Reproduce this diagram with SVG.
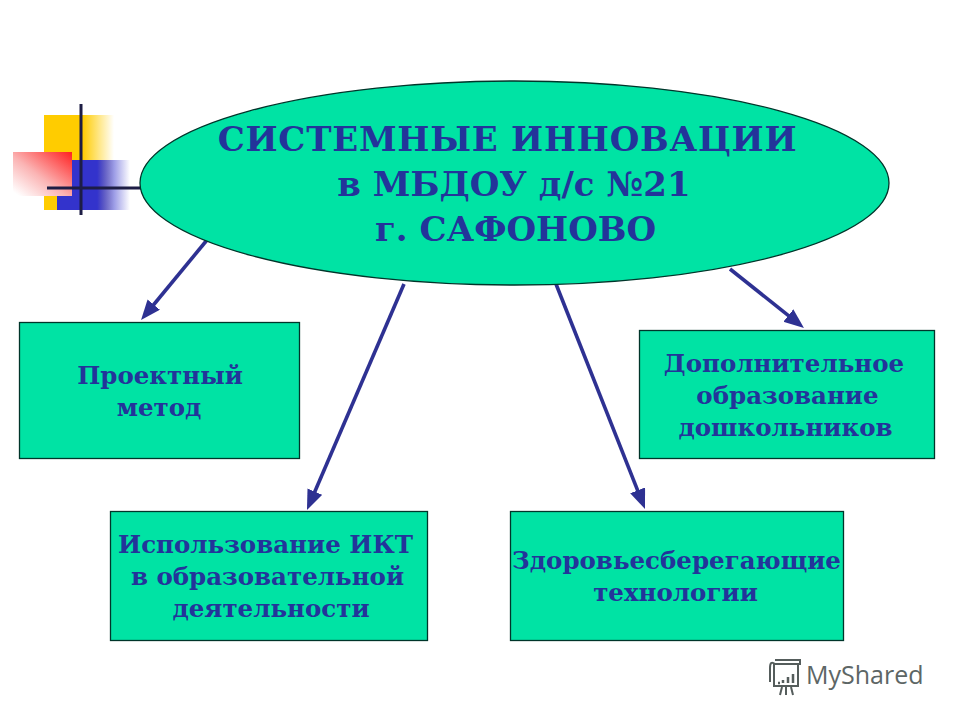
<svg xmlns="http://www.w3.org/2000/svg" width="960" height="720" viewBox="0 0 960 720">
<defs>
<linearGradient id="gy" x1="0" x2="1" y1="0" y2="0"><stop offset="0" stop-color="#ffcc00"/><stop offset="0.55" stop-color="#ffcc00"/><stop offset="1" stop-color="#ffcc00" stop-opacity="0"/></linearGradient>
<linearGradient id="gb" x1="0" x2="1" y1="0" y2="0"><stop offset="0" stop-color="#3333cc"/><stop offset="0.55" stop-color="#3333cc"/><stop offset="1" stop-color="#3333cc" stop-opacity="0"/></linearGradient>
<linearGradient id="gr" x1="1" x2="0" y1="0" y2="1"><stop offset="0" stop-color="#ff2020"/><stop offset="0.55" stop-color="#fbb4b4"/><stop offset="0.95" stop-color="#ffffff"/></linearGradient>
<marker id="ah" markerUnits="userSpaceOnUse" markerWidth="22" markerHeight="18" refX="7" refY="8" orient="auto"><path d="M0 0L20 8L0 16Z" fill="#2e3192"/></marker>
<style>
.box{fill:#00e3a4;stroke:#00352a;stroke-width:1.3}
.t{font-family:"DejaVu Serif",serif;font-weight:bold;fill:#23349a;text-anchor:middle}
.s{font-size:24.500px}
.h{font-size:34px}
.c{stroke:#2e3192;stroke-width:3.600;fill:none;marker-end:url(#ah)}
</style>
</defs>
<rect width="960" height="720" fill="#fff"/>
<g id="decor">
<rect x="44" y="115" width="70" height="95" fill="url(#gy)"/>
<rect x="57" y="160" width="73" height="50" fill="url(#gb)"/>
<rect x="13" y="152" width="59" height="44" fill="url(#gr)"/>
<path d="M81 104V215M47 188H145" stroke="#1d1d45" stroke-width="3" fill="none"/>
</g>
<g id="connectors">
<path class="c" d="M207 240L149.300 310"/>
<path class="c" d="M404 284L312.100 498"/>
<path class="c" d="M556 284L640.200 496.900"/>
<path class="c" d="M730 269L793.800 319.900"/>
</g>
<g id="root">
<ellipse class="box" cx="514.500" cy="183" rx="374.500" ry="102"/>
<text class="t h" x="507.500" y="151" letter-spacing=".75">СИСТЕМНЫЕ ИННОВАЦИИ</text>
<text class="t h" x="514" y="196">в МБДОУ д/с №21</text>
<text class="t h" x="515.500" y="241">г. САФОНОВО</text>
</g>
<g id="n1">
<rect class="box" x="19.500" y="322.500" width="280" height="136"/>
<text class="t s" x="160" y="384">Проектный</text>
<text class="t s" x="159" y="416">метод</text>
</g>
<g id="n2">
<rect class="box" x="110.500" y="511.500" width="317" height="129"/>
<text class="t s" x="265.500" y="553">Использование ИКТ</text>
<text class="t s" x="267.500" y="585">в образовательной</text>
<text class="t s" x="271" y="617">деятельности</text>
</g>
<g id="n3">
<rect class="box" x="510.500" y="511.500" width="333" height="129"/>
<text class="t s" x="676.500" y="569">Здоровьесберегающие</text>
<text class="t s" x="675.500" y="601">технологии</text>
</g>
<g id="n4">
<rect class="box" x="639.500" y="330.500" width="295" height="128"/>
<text class="t s" x="784" y="372">Дополнительное</text>
<text class="t s" x="787.500" y="404">образование</text>
<text class="t s" x="785.500" y="436">дошкольников</text>
</g>
<g id="watermark">
<g fill="none" stroke="#555d5c" stroke-width="2">
<path d="M775 664Q770 660 770 668V682M775 660H800V664H775M774 664V686H798V664"/>
<path d="M780 695L782 687M786 695V687M793 695L791 687"/>
<path d="M778 683h2M783 683v-3M788 683v-6M793 683v-9" stroke-width="2.500"/>
</g>
<text x="806" y="684" font-family="'Open Sans',sans-serif" font-size="25" fill="#5d6665">MyShared</text>
</g>
</svg>
